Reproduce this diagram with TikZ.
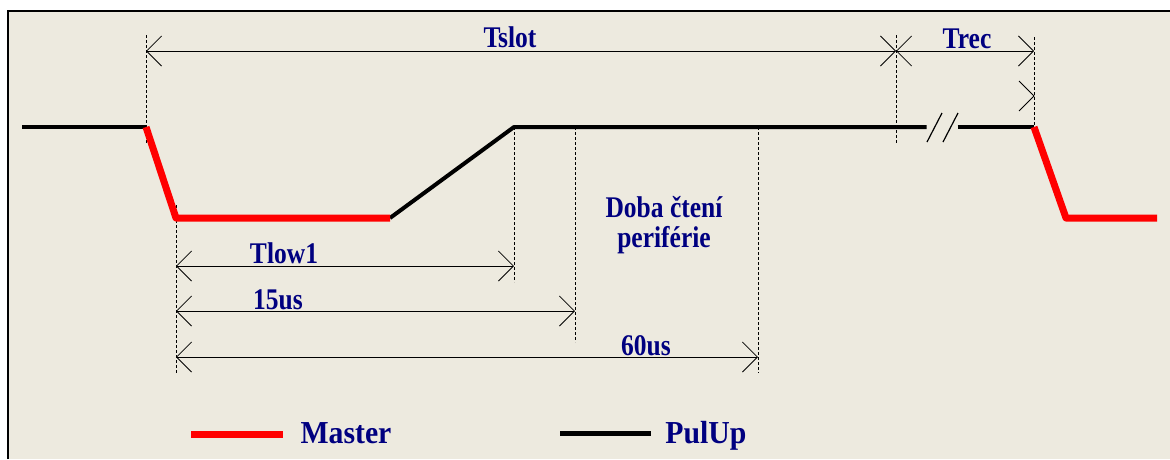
\documentclass[tikz,border=0pt]{standalone}
\usepackage{fontspec}
\setmainfont{Liberation Serif}
\usetikzlibrary{arrows.meta}
\definecolor{bg}{HTML}{EDEADF}
\definecolor{navy}{HTML}{000080}
\definecolor{sigred}{HTML}{FF0000}
\begin{document}
\begin{tikzpicture}[x=1pt,y=-1pt,
  lbl/.style={font=\bfseries\fontsize{30}{32}\selectfont, text=navy, inner sep=0pt, anchor=base, xscale=0.85},
  leglbl/.style={font=\bfseries\fontsize{32}{34}\selectfont, text=navy, inner sep=0pt, anchor=base, xscale=0.93},
  pullup/.style={line width=4pt, black, line join=round},
  master/.style={line width=7pt, sigred, line join=round},
  guide/.style={line width=1pt, dash pattern=on 3pt off 2pt},
  barb/.tip={Straight Barb[length=15pt,width=30pt]},
  dim/.style={line width=0.8pt, barb-barb},
  brk/.style={line width=1.2pt}]
\useasboundingbox (0,0) rectangle (1170,459);
\fill[white] (0,0) rectangle (1170,459);
\fill[bg] (8,11) rectangle (1170,459);
\draw[line width=2pt] (8,459) -- (8,11) -- (1170,11);

% signal points
\coordinate (s0) at (22,127);
\coordinate (a) at (146,127);
\coordinate (b) at (176,218);
\coordinate (c) at (390,218);
\coordinate (d) at (514,127);
\coordinate (e) at (926.5,127);
\coordinate (f) at (957.5,127);
\coordinate (g) at (1034,127);
\coordinate (h) at (1066,218);
\coordinate (i) at (1157,218);

% guides
\coordinate (ga1) at (146,35);   \coordinate (ga2) at (146,143);
\coordinate (gb1) at (176,205);  \coordinate (gb2) at (176,373);
\coordinate (gd2) at (514,282);
\coordinate (gp1) at (575,127);  \coordinate (gp2) at (575,342);
\coordinate (gq1) at (758,127);  \coordinate (gq2) at (758,373);
\coordinate (gs1) at (896,35);   \coordinate (gs2) at (896,143);
\coordinate (gr1) at (1034,37);
\draw[guide] (ga1) -- (ga2);
\draw[guide] (gb1) -- (gb2);
\draw[guide] (d) -- (gd2);
\draw[guide] (gp1) -- (gp2);
\draw[guide] (gq1) -- (gq2);
\draw[guide] (gs1) -- (gs2);
\draw[guide] (gr1) -- (g);

% signals
\draw[pullup] (s0) -- (a);
\draw[pullup] (c) -- (d) -- (e);
\draw[pullup] (f) -- (g);
\draw[master] (a) -- (b) -- (c);
\draw[master] (g) -- (h) -- (i);

% break marks
\coordinate (k1) at (927,142); \coordinate (k2) at (942,113);
\coordinate (k3) at (943,142); \coordinate (k4) at (958,113);
\draw[brk] (k1) -- (k2);
\draw[brk] (k3) -- (k4);

% dimension arrows
\coordinate (t1) at (146,51); \coordinate (t2) at (896,51); \coordinate (t3) at (1034,51);
\draw[dim] (t1) -- (t2);
\draw[dim] (t2) -- (t3);
\coordinate (r0) at (1019,81); \coordinate (r1) at (1034,96); \coordinate (r2) at (1019,111);
\draw[line width=0.8pt] (r0) -- (r1) -- (r2);
\coordinate (l1) at (176,266); \coordinate (l2) at (514,266);
\draw[dim] (l1) -- (l2);
\coordinate (m1) at (176,311); \coordinate (m2) at (575,311);
\draw[dim] (m1) -- (m2);
\coordinate (n1) at (176,357); \coordinate (n2) at (758,357);
\draw[dim] (n1) -- (n2);

% labels
\node[lbl] (tslot) at (510,47) {Tslot};
\node[lbl] (trec) at (967,48) {Trec};
\node[lbl] (tlow) at (284,263) {Tlow1};
\node[lbl] (t15) at (278,309) {15us};
\node[lbl] (t60) at (646,355) {60us};
\node[lbl] (doba) at (664,217) {Doba čtení};
\node[lbl] (perif) at (664,247) {periférie};

% legend
\coordinate (lm1) at (191,434); \coordinate (lm2) at (283,434);
\coordinate (lp1) at (560,433); \coordinate (lp2) at (651,433);
\draw[line width=7pt, sigred] (lm1) -- (lm2);
\draw[line width=5pt, black] (lp1) -- (lp2);
\node[leglbl] (lgm) at (346,443) {Master};
\node[leglbl] (lgp) at (706,443) {PulUp};
\end{tikzpicture}
\end{document}
